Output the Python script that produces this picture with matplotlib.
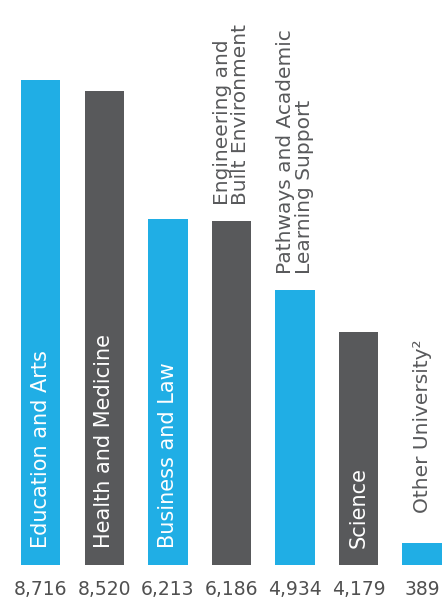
import matplotlib.pyplot as plt

categories = [
    "Education and Arts",
    "Health and Medicine",
    "Business and Law",
    "Engineering and\nBuilt Environment",
    "Pathways and Academic\nLearning Support",
    "Science",
    "Other University²",
]
values = [8716, 8520, 6213, 6186, 4934, 4179, 389]
value_labels = ["8,716", "8,520", "6,213", "6,186", "4,934", "4,179", "389"]
inside = [True, True, True, False, False, True, False]

blue = "#20AEE5"
grey = "#58595B"
colors = [blue, grey, blue, grey, blue, grey, blue]

plt.rcParams["font.family"] = ["DejaVu Sans"]

fig = plt.figure(figsize=(4.45, 6.03), dpi=100)
ax = fig.add_axes([0.04, 0.063, 0.96, 0.8305])

x = range(len(values))
ax.bar(x, values, width=0.62, color=colors)
ax.set_xlim(-0.36, 6.36)
ax.set_ylim(0, 9000)
ax.axis("off")

for i, (lab, v, vl, ins) in enumerate(zip(categories, values, value_labels, inside)):
    if ins:
        ax.text(i, 300, lab, rotation=90, ha="center", va="bottom",
                color="white", fontsize=15)
    else:
        gap = 550 if v < 1000 else 290
        ax.text(i, v + gap, lab, rotation=90, ha="center", va="bottom",
                color=grey, fontsize=14.5, multialignment="left",
                linespacing=0.95, clip_on=False)
    ax.text(i, -449, vl, ha="center", va="center", color="#505050",
            fontsize=13.5, clip_on=False)

fig.savefig("out.png", dpi=100)
